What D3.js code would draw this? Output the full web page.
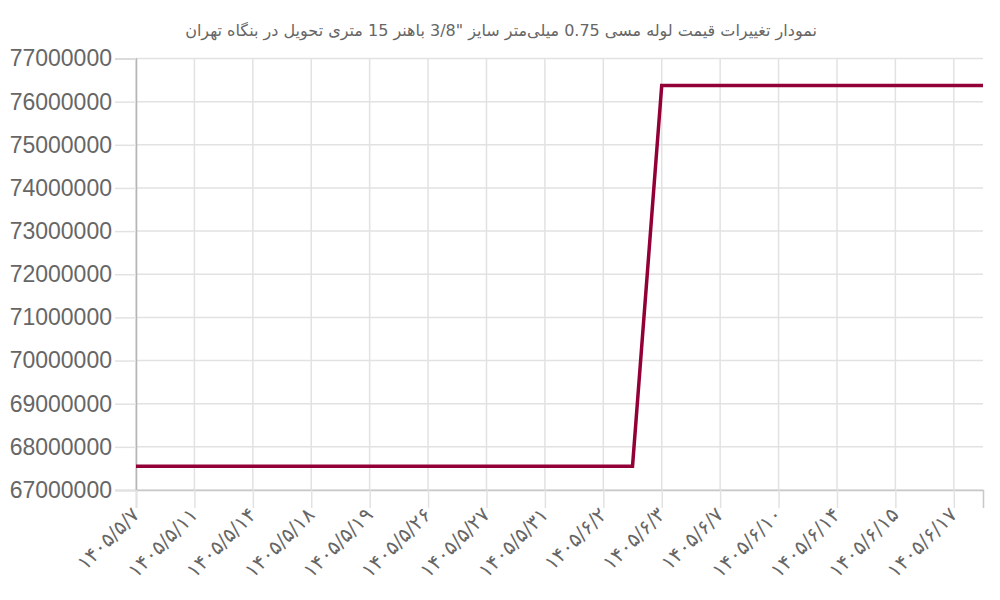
<!DOCTYPE html>
<html>
<head>
<meta charset="utf-8">
<script src="https://cdn.jsdelivr.net/npm/d3@7"></script>
<style>
  body { margin: 0; background: #fff; }
  svg { display: block; }
</style>
</head>
<body>
<div id="chart"></div>
<script>
const titleText = "نمودار تغییرات قیمت لوله مسی 0.75 میلی‌متر سایز \"3/8 باهنر 15 متری تحویل در بنگاه تهران";

// 30 points, only every other label is drawn on the axis
const dates = [
  "۱۴۰۵/۵/۷", "۱۴۰۵/۵/۱۰", "۱۴۰۵/۵/۱۱", "۱۴۰۵/۵/۱۲", "۱۴۰۵/۵/۱۴", "۱۴۰۵/۵/۱۷",
  "۱۴۰۵/۵/۱۸", "۱۴۰۵/۵/۱۸", "۱۴۰۵/۵/۱۹", "۱۴۰۵/۵/۲۵", "۱۴۰۵/۵/۲۶", "۱۴۰۵/۵/۲۶",
  "۱۴۰۵/۵/۲۷", "۱۴۰۵/۵/۲۸", "۱۴۰۵/۵/۳۱", "۱۴۰۵/۶/۱", "۱۴۰۵/۶/۲", "۱۴۰۵/۶/۲",
  "۱۴۰۵/۶/۳", "۱۴۰۵/۶/۵", "۱۴۰۵/۶/۷", "۱۴۰۵/۶/۹", "۱۴۰۵/۶/۱۰", "۱۴۰۵/۶/۱۱",
  "۱۴۰۵/۶/۱۴", "۱۴۰۵/۶/۱۴", "۱۴۰۵/۶/۱۵", "۱۴۰۵/۶/۱۶", "۱۴۰۵/۶/۱۷", "۱۴۰۵/۶/۱۸"
];
const prices = [
  67550000, 67550000, 67550000, 67550000, 67550000, 67550000,
  67550000, 67550000, 67550000, 67550000, 67550000, 67550000,
  67550000, 67550000, 67550000, 67550000, 67550000, 67550000,
  76375000, 76375000, 76375000, 76375000, 76375000, 76375000,
  76375000, 76375000, 76375000, 76375000, 76375000, 76375000
];
const yTicks = [67000000, 68000000, 69000000, 70000000, 71000000, 72000000, 73000000, 74000000, 75000000, 76000000, 77000000];

let width = 1000, height = 600;
let margin = { top: 58.5, right: 17, bottom: 110, left: 136 };

let svg = d3.select("#chart")
    .append("svg")
    .attr("width", width)
    .attr("height", height);

svg.append("text")
    .attr("x", 501)
    .attr("y", 36)
    .attr("text-anchor", "middle")
    .style("font-family", "DejaVu Sans, sans-serif")
    .style("font-size", "16px")
    .style("fill", "#666")
    .text(titleText);

let x = d3.scalePoint()
    .domain(d3.range(dates.length))
    .range([margin.left, width - margin.right]);

let y = d3.scaleLinear()
    .domain([67000000, 77000000])
    .range([height - margin.bottom, margin.top]);

// horizontal grid
svg.append("g")
    .selectAll("line")
    .data(yTicks)
    .enter()
    .append("line")
    .attr("x1", margin.left)
    .attr("x2", width - margin.right)
    .attr("y1", d => y(d))
    .attr("y2", d => y(d))
    .attr("stroke", "#e2e2e2")
    .attr("stroke-width", 1.5);

// vertical grid, at the labelled points
let xTicks = d3.range(0, dates.length, 2);
svg.append("g")
    .selectAll("line")
    .data(xTicks)
    .enter()
    .append("line")
    .attr("x1", d => x(d))
    .attr("x2", d => x(d))
    .attr("y1", margin.top)
    .attr("y2", height - margin.bottom)
    .attr("stroke", "#e2e2e2")
    .attr("stroke-width", 1.5);

let yAxis = svg.append("g")
    .attr("transform", "translate(" + margin.left + ",0)")
    .call(d3.axisLeft(y).tickValues(yTicks).tickSize(21).tickPadding(3).tickFormat(d3.format("d")));
yAxis.select(".domain").attr("stroke", "#b5b5b5").attr("stroke-width", 1.5);
yAxis.selectAll(".tick line").attr("stroke", "#e2e2e2").attr("stroke-width", 1.5);
yAxis.selectAll("text")
    .style("font-family", "Liberation Sans, Arial, sans-serif")
    .style("font-size", "23px")
    .style("fill", "#666");

let xAxis = svg.append("g")
    .attr("transform", "translate(0," + (height - margin.bottom) + ")")
    .call(d3.axisBottom(x).tickValues(xTicks).tickSize(18).tickFormat(i => dates[i]));
xAxis.select(".domain").attr("stroke", "#c8c8c8").attr("stroke-width", 1.5);
xAxis.selectAll(".tick line").attr("stroke", "#e2e2e2").attr("stroke-width", 1.5);
xAxis.selectAll("text")
    .attr("direction", "ltr")
    .attr("text-anchor", "end")
    .attr("y", 0)
    .attr("dy", "0")
    .attr("transform", "translate(4,26) rotate(-45)")
    .style("font-family", "DejaVu Sans, sans-serif")
    .style("font-size", "20px")
    .style("fill", "#666");

let line = d3.line()
    .x((d, i) => x(i))
    .y(d => y(d));

svg.append("path")
    .datum(prices)
    .attr("fill", "none")
    .attr("stroke", "#930037")
    .attr("stroke-width", 3.5)
    .attr("d", line);
</script>
</body>
</html>
